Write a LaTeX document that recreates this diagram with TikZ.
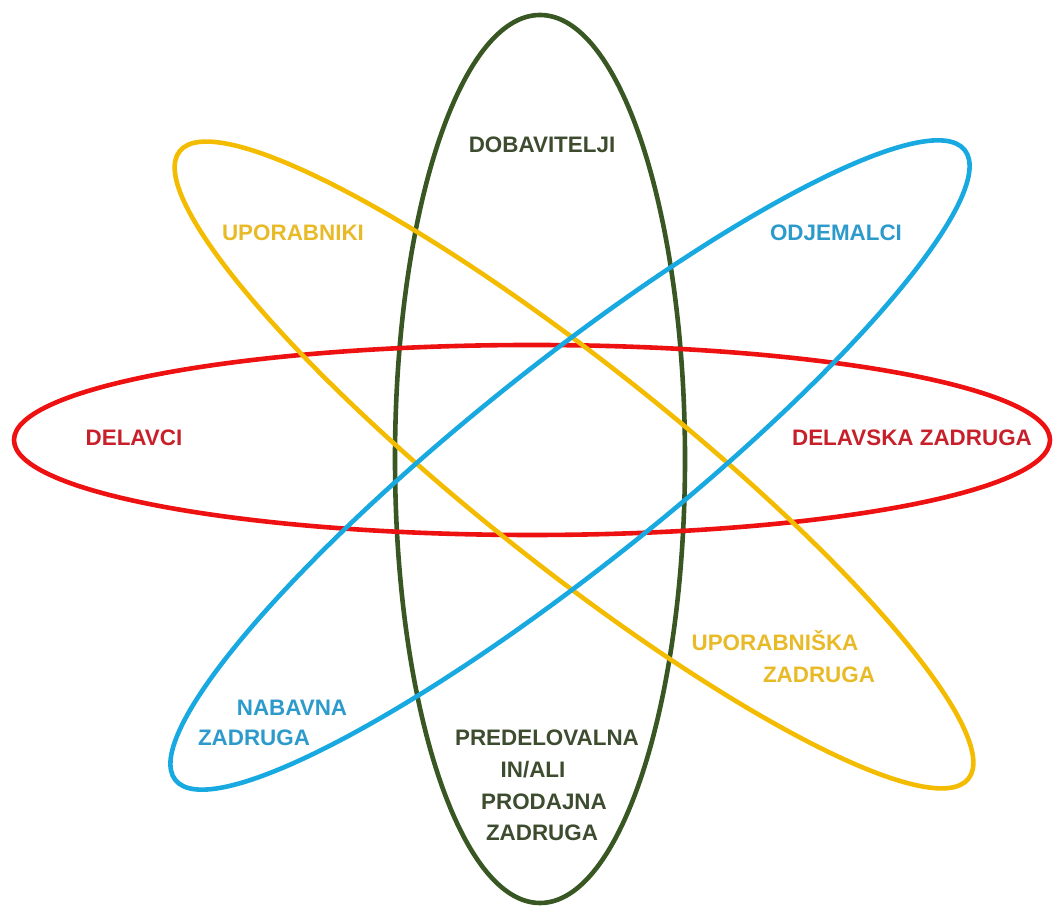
\documentclass[tikz,border=0pt]{standalone}
\usepackage{fontspec}
\setmainfont{Liberation Sans}
\definecolor{gline}{HTML}{385723}
\definecolor{gtext}{HTML}{3D4C2F}
\definecolor{rline}{HTML}{EE1111}
\definecolor{rtext}{HTML}{C8202A}
\definecolor{yline}{HTML}{F4BC00}
\definecolor{ytext}{HTML}{E8BA28}
\definecolor{bline}{HTML}{19A9E1}
\definecolor{btext}{HTML}{2C9ACB}
\begin{document}
\begin{tikzpicture}[x=1pt,y=1pt,
  orbit/.style={line width=4.6pt},
  lbl/.style={inner sep=0pt,text height=16pt,text depth=0pt,font=\fontsize{22.4}{27}\selectfont\bfseries}]
\useasboundingbox (0,0) rectangle (1057,909);
% ellipses
\draw[orbit,gline] (540,450) ellipse [x radius=145, y radius=444];
\draw[orbit,rline] (532,469) ellipse [x radius=518, y radius=95];
\draw[orbit,yline,rotate around={-38.5:(574,444)}] (574,444) ellipse [x radius=504, y radius=100];
\draw[orbit,bline,rotate around={38.6:(570,444)}] (570,444) ellipse [x radius=505, y radius=100];
% labels
\node[lbl,gtext] (dob) at (542,764) {DOBAVITELJI};
\node[lbl,ytext] (upo) at (293,676) {UPORABNIKI};
\node[lbl,btext] (odj) at (836,676) {ODJEMALCI};
\node[lbl,rtext] (del) at (134,471) {DELAVCI};
\node[lbl,rtext] (delz) at (912,471) {DELAVSKA ZADRUGA};
\node[lbl,ytext] (upz1) at (775,266) {UPORABNIŠKA};
\node[lbl,ytext] (upz2) at (819,234) {ZADRUGA};
\node[lbl,btext] (nab1) at (292,201) {NABAVNA};
\node[lbl,btext] (nab2) at (254,171) {ZADRUGA};
\node[lbl,gtext] (pre1) at (547,171) {PREDELOVALNA};
\node[lbl,gtext] (pre2) at (533,139) {IN/ALI};
\node[lbl,gtext] (pre3) at (544,107) {PRODAJNA};
\node[lbl,gtext] (pre4) at (542,76) {ZADRUGA};
\end{tikzpicture}
\end{document}
